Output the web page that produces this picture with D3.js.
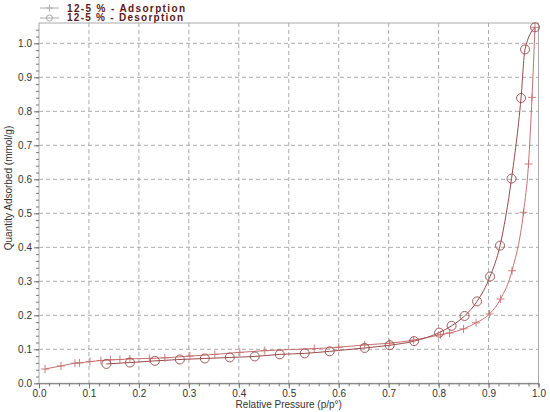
<!DOCTYPE html>
<html><head><meta charset="utf-8">
<script src="https://cdn.jsdelivr.net/npm/d3@7"></script>
<style>body{margin:0;background:#fff}svg{display:block}</style>
</head><body>
<svg id="c" width="550" height="412"></svg>
<script>
const adsP = [0.012,0.044,0.072,0.081,0.102,0.124,0.143,0.162,0.182,0.221,0.252,0.302,0.352,0.402,0.452,0.551,0.600,0.652,0.702,0.750,0.804,0.822,0.850,0.875,0.902,0.924,0.947,0.970,0.980,0.987,0.993];
const adsQ = [0.042,0.051,0.059,0.060,0.064,0.067,0.069,0.070,0.072,0.073,0.075,0.080,0.085,0.091,0.096,0.102,0.106,0.113,0.118,0.127,0.143,0.148,0.160,0.178,0.204,0.248,0.331,0.503,0.645,0.841,1.047];
const desP = [0.135,0.182,0.232,0.282,0.332,0.382,0.432,0.482,0.532,0.582,0.652,0.702,0.751,0.801,0.826,0.852,0.877,0.903,0.923,0.946,0.965,0.973,0.993];
const desQ = [0.057,0.061,0.066,0.070,0.073,0.076,0.079,0.085,0.088,0.094,0.104,0.112,0.124,0.149,0.169,0.198,0.241,0.314,0.405,0.602,0.839,0.982,1.047];
const xTicks = [0,0.1,0.2,0.3,0.4,0.5,0.6,0.7,0.8,0.9,1.0];
const yTicks = [0,0.1,0.2,0.3,0.4,0.5,0.6,0.7,0.8,0.9,1.0];
const seriesNames = ["12-5 % - Adsorption","12-5 % - Desorption"];

const svg = d3.select("#c");
const L=39, R=538.5, T=23, B=383.3;
const x = d3.scaleLinear().domain([0,1]).range([L,R]);
const y = d3.scaleLinear().domain([0,1]).range([B,B-340]);
const adsCol="#c87070", desCol="#9a4a4a", txtCol="#333";

// grid
const g = svg.append("g");
g.selectAll(".vg").data(xTicks.slice(1,-1)).join("line")
 .attr("x1",d=>x(d)).attr("x2",d=>x(d)).attr("y1",T).attr("y2",B)
 .attr("stroke","#aaa").attr("stroke-width",1).attr("stroke-dasharray","4,3");
g.selectAll(".hg").data(yTicks.slice(1)).join("line")
 .attr("x1",L).attr("x2",R).attr("y1",d=>y(d)).attr("y2",d=>y(d))
 .attr("stroke","#aaa").attr("stroke-width",1).attr("stroke-dasharray","4,3");
// border
svg.append("rect").attr("x",L).attr("y",T).attr("width",R-L).attr("height",B-T)
 .attr("fill","none").attr("stroke","#aaa").attr("stroke-width",1);

// axes
const xMinor = d3.range(0,1.0001,0.02);
const yMinor = d3.range(0,1.0501,0.02);
const xa = svg.append("g").attr("transform",`translate(0,${B})`)
 .call(d3.axisBottom(x).tickValues(xMinor).tickSize(3).tickFormat(""));
xa.select(".domain").attr("stroke","#777");
xa.selectAll("line").attr("stroke","#777");
const xb = svg.append("g").attr("transform",`translate(0,${B})`)
 .call(d3.axisBottom(x).tickValues(xTicks).tickSize(5).tickPadding(2).tickFormat(d3.format(".1f")));
xb.select(".domain").remove();
xb.selectAll("line").attr("stroke","#777");
xb.selectAll("text").attr("font-family","Liberation Sans, Arial, sans-serif").attr("font-size",10).attr("fill",txtCol);

const ya = svg.append("g").attr("transform",`translate(${L},0)`)
 .call(d3.axisLeft(y).tickValues(yMinor).tickSize(3).tickFormat(""));
ya.select(".domain").remove();
ya.selectAll("line").attr("stroke","#777");
const yb = svg.append("g").attr("transform",`translate(${L},0)`)
 .call(d3.axisLeft(y).tickValues(yTicks).tickSize(5).tickPadding(2).tickFormat(d3.format(".1f")));
yb.select(".domain").remove();
yb.selectAll("line").attr("stroke","#777");
yb.selectAll("text").attr("font-family","Liberation Sans, Arial, sans-serif").attr("font-size",10).attr("fill",txtCol);

// titles
svg.append("text").attr("x",(L+R)/2).attr("y",408).attr("text-anchor","middle")
 .attr("font-family","Liberation Sans, Arial, sans-serif").attr("font-size",10).attr("fill",txtCol)
 .text("Relative Pressure (p/p°)");
svg.append("text").attr("transform","translate(12,188) rotate(-90)").attr("text-anchor","middle")
 .attr("font-family","Liberation Sans, Arial, sans-serif").attr("font-size",10).attr("fill",txtCol)
 .text("Quantity Adsorbed (mmol/g)");

// series
const ads = adsP.map((p,i)=>[p,adsQ[i]]);
const des = desP.map((p,i)=>[p,desQ[i]]);
const line = d3.line().x(d=>x(d[0])).y(d=>y(d[1])).curve(d3.curveMonotoneX);
svg.append("path").datum(ads).attr("d",line).attr("fill","none").attr("stroke",adsCol).attr("stroke-width",1);
svg.append("path").datum(des).attr("d",line).attr("fill","none").attr("stroke",desCol).attr("stroke-width",1);

function cross(sel,cx,cy,s,col){
  sel.append("path").attr("d",`M${cx-s},${cy}H${cx+s}M${cx},${cy-s}V${cy+s}`).attr("stroke",col).attr("stroke-width",0.9).attr("fill","none");
}
const pg = svg.append("g");
ads.forEach(d=>cross(pg,x(d[0]),y(d[1]),4,adsCol));
svg.append("g").selectAll("circle").data(des).join("circle")
 .attr("cx",d=>x(d[0])).attr("cy",d=>y(d[1])).attr("r",4.5)
 .attr("fill","none").attr("stroke",desCol).attr("stroke-width",0.9);

// legend
const lg = svg.append("g");
lg.append("line").attr("x1",40).attr("x2",59).attr("y1",8).attr("y2",8).attr("stroke","#aaa");
cross(lg,49.5,8,3.5,"#aaa");
lg.append("line").attr("x1",40).attr("x2",59).attr("y1",18).attr("y2",18).attr("stroke","#aaa");
lg.append("circle").attr("cx",49.5).attr("cy",18).attr("r",3).attr("fill","none").attr("stroke","#aaa");
lg.selectAll("text").data(seriesNames).join("text")
 .attr("x",67).attr("y",(d,i)=>11.5+i*9.5)
 .attr("font-family","Liberation Sans, Arial, sans-serif").attr("font-size",10).attr("font-weight","bold")
 .attr("textLength",(d,i)=>i===0?118:116).attr("lengthAdjust","spacing")
 .attr("fill","#5a1a1a").text(d=>d);
</script>
</body></html>
